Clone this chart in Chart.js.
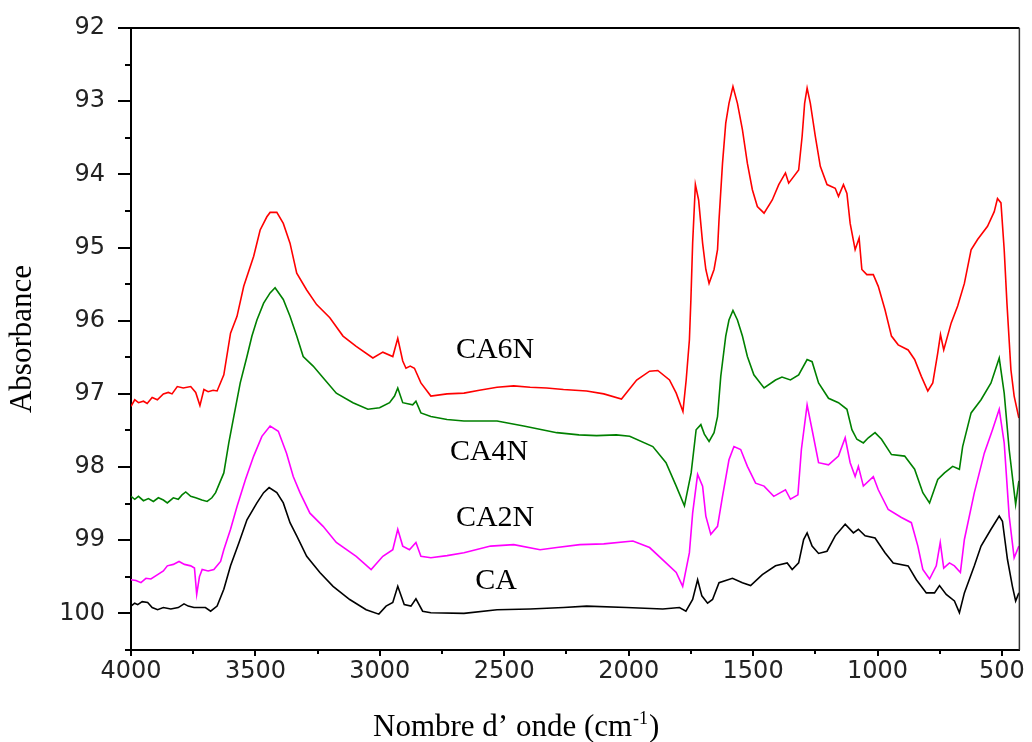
<!DOCTYPE html>
<html>
<head>
<meta charset="utf-8">
<title>Spectres IR</title>
<script src="https://cdn.jsdelivr.net/npm/chart.js@4.4.0/dist/chart.umd.min.js"></script>
<style>
  html, body { margin: 0; padding: 0; background: #fff; }
  #wrap { width: 1032px; height: 742px; }
</style>
</head>
<body>
<div id="wrap"><canvas id="ir"></canvas></div>
<script>
// spectra: wavenumber (cm-1) / absorbance pairs
const seriesNames = ['CA6N', 'CA4N', 'CA2N', 'CA'];
const seriesColors = ['#ff0000', '#008000', '#ff00ff', '#000000'];

const wnCA6N = [4000,3985,3970,3950,3935,3915,3894,3870,3850,3835,3814,3790,3760,3740,3723,3707,3690,3670,3654,3627,3600,3574,3547,3507,3481,3454,3441,3414,3388,3361,3334,3294,3254,3201,3148,3095,3028,2988,2948,2928,2908,2895,2878,2861,2835,2795,2730,2662,2600,2529,2462,2396,2330,2262,2169,2100,2029,1968,1916,1883,1836,1809,1782,1769,1756,1750,1743,1732,1719,1703,1690,1677,1657,1643,1637,1623,1610,1597,1581,1563,1543,1523,1503,1483,1456,1423,1397,1370,1357,1317,1303,1293,1283,1270,1250,1230,1203,1170,1157,1137,1123,1110,1090,1074,1063,1043,1017,997,970,944,917,877,851,824,798,778,758,747,734,704,678,651,624,598,558,531,518,504,491,480,464,451,432];
const absCA6N = [97.17,97.08,97.12,97.10,97.13,97.05,97.08,97.00,96.98,97.00,96.90,96.92,96.90,96.98,97.16,96.94,96.97,96.95,96.96,96.74,96.17,95.94,95.53,95.12,94.76,94.58,94.52,94.52,94.67,94.94,95.35,95.58,95.78,95.96,96.21,96.35,96.51,96.43,96.49,96.24,96.55,96.65,96.62,96.65,96.85,97.03,97.00,96.99,96.95,96.91,96.89,96.91,96.92,96.94,96.96,97.00,97.07,96.81,96.69,96.68,96.81,96.99,97.24,96.81,96.26,95.71,94.94,94.14,94.35,94.94,95.30,95.49,95.30,95.03,94.62,93.85,93.30,93.03,92.80,93.03,93.39,93.85,94.21,94.44,94.53,94.35,94.14,93.98,94.12,93.94,93.48,93.03,92.82,93.03,93.48,93.89,94.14,94.19,94.30,94.14,94.26,94.67,95.03,94.87,95.30,95.37,95.37,95.53,95.85,96.21,96.33,96.40,96.53,96.76,96.96,96.85,96.44,96.19,96.40,96.03,95.80,95.49,95.03,94.89,94.71,94.51,94.33,94.39,95.03,95.76,96.67,97.03,97.33];

const wnCA4N = [4000,3985,3970,3950,3930,3910,3890,3870,3854,3830,3810,3795,3780,3760,3740,3715,3694,3675,3660,3627,3607,3587,3561,3534,3514,3494,3467,3441,3421,3388,3361,3334,3308,3268,3228,3175,3108,3048,3001,2961,2941,2928,2908,2868,2855,2835,2795,2730,2662,2529,2422,2289,2200,2129,2050,1996,1903,1850,1809,1776,1749,1729,1710,1696,1677,1657,1643,1630,1610,1597,1581,1563,1543,1523,1497,1456,1410,1384,1350,1317,1283,1263,1237,1197,1157,1123,1103,1083,1057,1037,1010,984,944,891,851,818,791,758,731,698,671,658,624,584,544,511,491,471,445,432];
const absCA4N = [98.40,98.44,98.40,98.46,98.43,98.47,98.42,98.45,98.49,98.42,98.44,98.38,98.34,98.40,98.42,98.45,98.47,98.42,98.35,98.08,97.67,97.31,96.85,96.49,96.21,95.99,95.76,95.62,95.55,95.71,95.94,96.21,96.49,96.62,96.78,96.99,97.12,97.21,97.19,97.12,97.03,96.92,97.12,97.15,97.10,97.26,97.31,97.35,97.37,97.37,97.44,97.53,97.56,97.57,97.56,97.58,97.72,97.94,98.26,98.53,98.08,97.49,97.42,97.55,97.65,97.53,97.31,96.76,96.21,95.99,95.86,95.99,96.21,96.49,96.74,96.92,96.81,96.77,96.81,96.74,96.53,96.56,96.85,97.06,97.12,97.21,97.49,97.62,97.67,97.60,97.53,97.62,97.83,97.85,98.03,98.35,98.49,98.17,98.08,97.99,98.03,97.72,97.26,97.08,96.85,96.51,96.99,97.76,98.51,98.19];

const wnCA2N = [4000,3980,3960,3940,3920,3893,3870,3854,3830,3807,3785,3760,3745,3736,3725,3714,3690,3667,3640,3627,3600,3574,3540,3507,3474,3441,3408,3375,3348,3321,3281,3228,3175,3095,3035,2988,2948,2928,2908,2881,2855,2835,2795,2730,2662,2555,2462,2356,2289,2196,2100,1983,1916,1850,1809,1783,1756,1743,1723,1703,1690,1670,1643,1623,1597,1577,1550,1523,1490,1456,1417,1370,1350,1320,1306,1283,1263,1237,1197,1157,1130,1110,1090,1077,1057,1017,997,957,904,864,838,818,791,764,748,734,711,691,667,651,611,571,538,511,491,471,451,432];
const absCA2N = [99.54,99.55,99.58,99.52,99.53,99.47,99.42,99.35,99.33,99.29,99.33,99.35,99.38,99.74,99.50,99.40,99.42,99.40,99.29,99.13,98.85,98.54,98.17,97.85,97.58,97.44,97.51,97.81,98.13,98.35,98.63,98.81,99.03,99.22,99.40,99.22,99.13,98.85,99.08,99.13,99.03,99.22,99.24,99.21,99.17,99.08,99.06,99.13,99.10,99.06,99.05,99.01,99.10,99.31,99.44,99.63,99.17,98.63,98.10,98.26,98.67,98.92,98.81,98.40,97.90,97.72,97.76,97.99,98.22,98.26,98.40,98.31,98.44,98.38,97.76,97.15,97.49,97.94,97.97,97.85,97.60,97.94,98.13,97.99,98.26,98.13,98.31,98.58,98.69,98.76,99.08,99.40,99.53,99.35,99.03,99.38,99.31,99.35,99.44,98.99,98.35,97.81,97.49,97.21,97.67,98.67,99.24,99.08];

const wnCA = [4000,3985,3973,3955,3933,3915,3893,3870,3840,3810,3787,3770,3747,3701,3680,3654,3627,3600,3567,3534,3494,3467,3445,3414,3388,3361,3334,3294,3241,3188,3121,3055,3004,2975,2948,2928,2902,2875,2855,2828,2795,2662,2529,2396,2262,2169,2009,1863,1796,1770,1743,1723,1706,1683,1663,1637,1583,1543,1510,1463,1410,1363,1343,1317,1297,1283,1263,1237,1203,1170,1130,1097,1077,1050,1010,970,937,877,844,804,771,751,724,691,671,651,611,584,544,511,498,478,458,445,432];
const absCA = [99.90,99.86,99.88,99.84,99.85,99.92,99.95,99.92,99.94,99.92,99.87,99.90,99.92,99.92,99.97,99.90,99.67,99.35,99.04,98.72,98.49,98.35,98.28,98.35,98.49,98.76,98.94,99.22,99.44,99.63,99.81,99.95,100.01,99.90,99.85,99.63,99.88,99.90,99.80,99.97,99.99,100.00,99.95,99.94,99.92,99.90,99.92,99.94,99.92,99.97,99.81,99.54,99.76,99.86,99.81,99.58,99.52,99.58,99.62,99.47,99.35,99.31,99.40,99.31,98.99,98.90,99.08,99.18,99.15,98.94,98.78,98.90,98.85,98.94,98.97,99.17,99.31,99.35,99.54,99.72,99.72,99.62,99.74,99.83,99.99,99.72,99.35,99.08,98.85,98.67,98.74,99.26,99.63,99.83,99.72];

// where each sample name sits, in axis units (cm-1, absorbance)
const labelWn = [2537, 2561, 2537, 2533];
const labelAbs = [96.40, 97.79, 98.70, 99.56];

const wnSets = [wnCA6N, wnCA4N, wnCA2N, wnCA];
const absSets = [absCA6N, absCA4N, absCA2N, absCA];

const datasets = seriesNames.map((name, i) => ({
  label: name,
  data: wnSets[i].map((w, k) => ({ x: w, y: absSets[i][k] })),
  borderColor: seriesColors[i],
  borderWidth: 1.6,
  pointRadius: 0,
  tension: 0,
  fill: false
}));

const serif = '"Liberation Serif", "Times New Roman", serif';

// axis ticks (long on whole values), top/right frame, x title and sample names
const decor = {
  id: 'decor',
  afterDraw(chart) {
    const { ctx, chartArea: a, scales: { x, y } } = chart;
    ctx.save();
    ctx.strokeStyle = '#000';
    ctx.lineWidth = 2;
    ctx.beginPath();
    ctx.moveTo(a.left, a.top);
    ctx.lineTo(a.right, a.top);
    ctx.stroke();
    ctx.lineWidth = 1.5;
    ctx.strokeStyle = '#333';
    ctx.beginPath();
    ctx.moveTo(a.right, a.top);
    ctx.lineTo(a.right, a.bottom);
    ctx.stroke();

    ctx.strokeStyle = '#000';
    ctx.lineWidth = 2;
    y.ticks.forEach(t => {
      const py = Math.round(y.getPixelForValue(t.value));
      const len = Number.isInteger(t.value) ? 13 : 6;
      ctx.beginPath();
      ctx.moveTo(a.left - len, py);
      ctx.lineTo(a.left, py);
      ctx.stroke();
    });
    x.ticks.forEach(t => {
      const px = Math.round(x.getPixelForValue(t.value));
      const len = t.value % 500 === 0 ? 6 : 4;
      ctx.beginPath();
      ctx.moveTo(px, a.bottom);
      ctx.lineTo(px, a.bottom + len);
      ctx.stroke();
    });

    // x axis title with superscript
    ctx.fillStyle = '#000';
    ctx.textBaseline = 'alphabetic';
    ctx.textAlign = 'left';
    const main = 'Nombre d\u2019 onde (cm';
    ctx.font = '31px ' + serif;
    let tx = 373;
    const base = 736;
    ctx.fillText(main, tx, base);
    tx += ctx.measureText(main).width + 1;
    ctx.font = '18px ' + serif;
    ctx.fillText('-1', tx, base - 12);
    tx += ctx.measureText('-1').width + 1;
    ctx.font = '31px ' + serif;
    ctx.fillText(')', tx, base);

    // sample names
    ctx.textAlign = 'center';
    ctx.textBaseline = 'middle';
    ctx.font = '30px ' + serif;
    seriesNames.forEach((n, i) => {
      ctx.fillText(n, x.getPixelForValue(labelWn[i]), y.getPixelForValue(labelAbs[i]));
    });
    ctx.restore();
  }
};

const tickFont = { family: '"DejaVu Sans", sans-serif', size: 24 };

new Chart(document.getElementById('ir'), {
  type: 'line',
  data: { datasets },
  plugins: [decor],
  options: {
    responsive: true,
    maintainAspectRatio: false,
    animation: false,
    devicePixelRatio: 1,
    layout: { padding: { left: 0, right: 7, top: 28, bottom: 0 } },
    plugins: { legend: { display: false }, tooltip: { enabled: false } },
    scales: {
      x: {
        type: 'linear',
        reverse: true,
        min: 430,
        max: 4000,
        grid: { drawOnChartArea: false, drawTicks: false },
        border: { display: true, color: '#000', width: 2 },
        ticks: {
          stepSize: 250,
          includeBounds: false,
          autoSkip: false,
          maxRotation: 0,
          padding: 7,
          color: '#222',
          font: tickFont,
          callback: v => (v % 500 === 0 ? String(v) : '')
        },
        afterFit: s => { s.height = 92; }
      },
      y: {
        type: 'linear',
        reverse: true,
        min: 92,
        max: 100.5,
        // invisible tick marks keep the labels clear of the axis; real ones are drawn by decor
        grid: { drawOnChartArea: false, drawTicks: true, tickLength: 26, tickColor: 'rgba(0,0,0,0)' },
        border: { display: true, color: '#000', width: 2 },
        ticks: {
          stepSize: 0.5,
          autoSkip: false,
          padding: 0,
          color: '#222',
          font: tickFont,
          callback: v => (Number.isInteger(v) ? String(v) : '')
        },
        title: {
          display: true,
          text: 'Absorbance',
          color: '#000',
          font: { family: serif, size: 31 },
          padding: { top: 4, bottom: 0 }
        },
        afterFit: s => { s.width = 131; }
      }
    }
  }
});
</script>
</body>
</html>
